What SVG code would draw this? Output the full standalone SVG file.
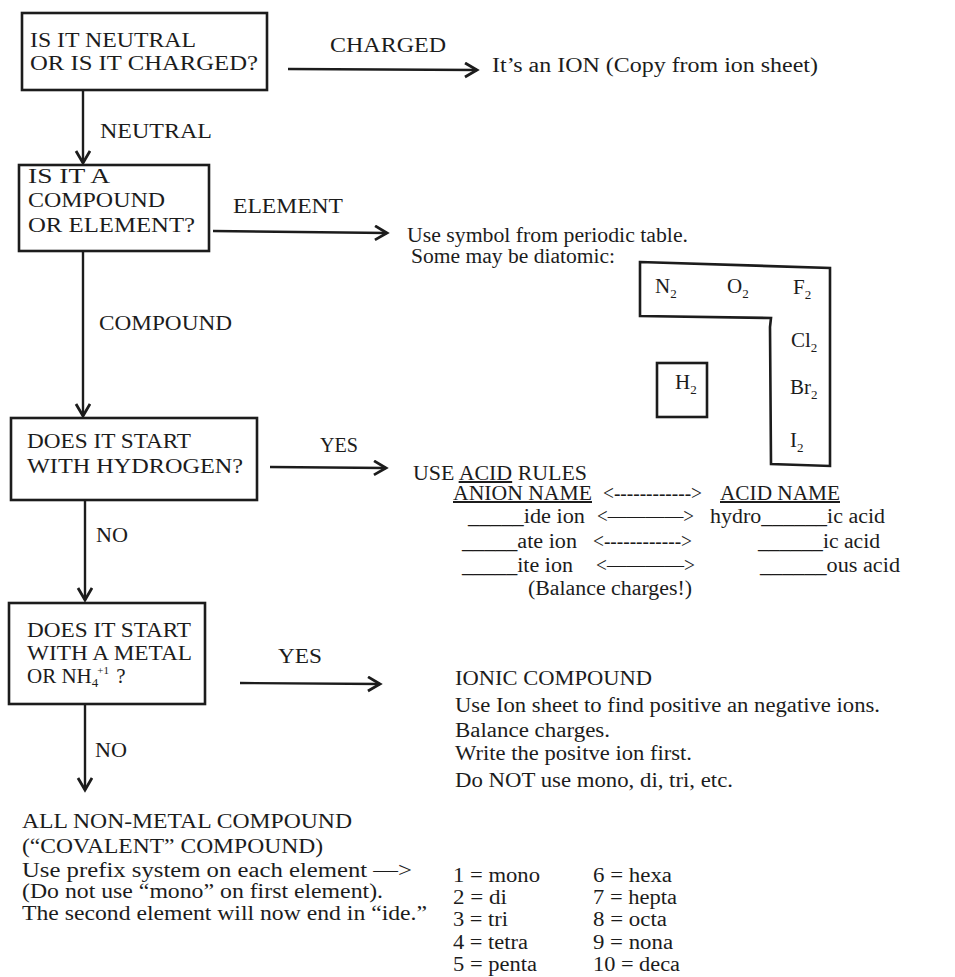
<svg xmlns="http://www.w3.org/2000/svg" width="955" height="977" viewBox="0 0 955 977">
<style>
text{font-family:"Liberation Serif","Times New Roman",serif;fill:#1c1c1c;font-size:20px}
.box{fill:none;stroke:#1c1c1c;stroke-width:2.6}
.conn{fill:none;stroke:#1c1c1c;stroke-width:2.4}
.sm{font-size:21px}
.sub{font-size:13px}
.sup{font-size:11px}
.nh{font-size:21px}
.u{text-decoration:underline}
</style>
<defs>
<marker id="ah" markerUnits="userSpaceOnUse" markerWidth="18" markerHeight="18" refX="14" refY="8" orient="auto">
<path d="M2,1 L14,8 L2,15" fill="none" stroke="#1c1c1c" stroke-width="2.8" stroke-linejoin="miter"/>
</marker>
</defs>
<rect width="955" height="977" fill="#fff"/>

<g id="connectors">
<line class="conn" x1="288" y1="69" x2="477" y2="70" marker-end="url(#ah)"/>
<line class="conn" x1="83" y1="90" x2="83" y2="163" marker-end="url(#ah)"/>
<line class="conn" x1="213" y1="231" x2="387" y2="233" marker-end="url(#ah)"/>
<line class="conn" x1="83" y1="251" x2="83" y2="416" marker-end="url(#ah)"/>
<line class="conn" x1="270" y1="467" x2="386" y2="468" marker-end="url(#ah)"/>
<line class="conn" x1="85" y1="500" x2="85" y2="600" marker-end="url(#ah)"/>
<line class="conn" x1="240" y1="683" x2="380" y2="684" marker-end="url(#ah)"/>
<line class="conn" x1="85" y1="704" x2="85" y2="790" marker-end="url(#ah)"/>
<text x="330" y="52" textLength="116" lengthAdjust="spacingAndGlyphs">CHARGED</text>
<text x="100" y="138" textLength="112" lengthAdjust="spacingAndGlyphs">NEUTRAL</text>
<text x="233" y="213" textLength="110" lengthAdjust="spacingAndGlyphs">ELEMENT</text>
<text x="99" y="330" textLength="133" lengthAdjust="spacingAndGlyphs">COMPOUND</text>
<text x="320" y="452" textLength="38" lengthAdjust="spacingAndGlyphs">YES</text>
<text x="96" y="542" textLength="32" lengthAdjust="spacingAndGlyphs">NO</text>
<text x="278" y="663" textLength="44" lengthAdjust="spacingAndGlyphs">YES</text>
<text x="95" y="757" textLength="32" lengthAdjust="spacingAndGlyphs">NO</text>
</g>

<g id="q1">
<rect class="box" x="22" y="13" width="245" height="77"/>
<text x="30" y="47" textLength="166" lengthAdjust="spacingAndGlyphs">IS IT NEUTRAL</text>
<text x="30" y="70" textLength="228" lengthAdjust="spacingAndGlyphs">OR IS IT CHARGED?</text>
</g>

<g id="ion">
<text x="492" y="72" textLength="326" lengthAdjust="spacingAndGlyphs">It’s an ION (Copy from ion sheet)</text>
</g>

<g id="q2">
<rect class="box" x="19" y="165" width="190" height="86"/>
<text x="28" y="183" textLength="82" lengthAdjust="spacingAndGlyphs">IS IT A</text>
<text x="28" y="207" textLength="137" lengthAdjust="spacingAndGlyphs">COMPOUND</text>
<text x="28" y="232" textLength="167" lengthAdjust="spacingAndGlyphs">OR  ELEMENT?</text>
</g>

<g id="element">
<text x="407" y="242" textLength="281" lengthAdjust="spacingAndGlyphs">Use symbol from periodic table.</text>
<text x="411" y="263" textLength="204" lengthAdjust="spacingAndGlyphs">Some may be diatomic:</text>
<path class="box" d="M640,262 L830,268 L830,466 L771,464 L770,327 L771,318 L640,316 Z"/>
<text x="655" y="293" class="sm">N<tspan class="sub" dy="5">2</tspan></text>
<text x="727" y="293" class="sm">O<tspan class="sub" dy="5">2</tspan></text>
<text x="793" y="294" class="sm">F<tspan class="sub" dy="5">2</tspan></text>
<text x="791" y="347" class="sm">Cl<tspan class="sub" dy="5">2</tspan></text>
<text x="790" y="394" class="sm">Br<tspan class="sub" dy="5">2</tspan></text>
<text x="790" y="447" class="sm">I<tspan class="sub" dy="5">2</tspan></text>
<rect class="box" x="657" y="363" width="50" height="54"/>
<text x="675" y="389" class="sm">H<tspan class="sub" dy="5">2</tspan></text>
</g>

<g id="q3">
<rect class="box" x="11" y="418" width="246" height="82"/>
<text x="27" y="448" textLength="164" lengthAdjust="spacingAndGlyphs">DOES IT START</text>
<text x="27" y="473" textLength="216" lengthAdjust="spacingAndGlyphs">WITH HYDROGEN?</text>
</g>

<g id="acid">
<text x="413" y="480" textLength="174" lengthAdjust="spacingAndGlyphs">USE <tspan class="u">ACID</tspan> RULES</text>
<text x="453" y="500" textLength="139" lengthAdjust="spacingAndGlyphs" class="u">ANION NAME</text>
<text x="603" y="500" textLength="99" lengthAdjust="spacingAndGlyphs">&lt;------------&gt;</text>
<text x="720" y="500" textLength="120" lengthAdjust="spacingAndGlyphs" class="u">ACID NAME</text>
<text x="468" y="523" textLength="117" lengthAdjust="spacingAndGlyphs">_____ide ion</text>
<text x="597" y="523" textLength="97" lengthAdjust="spacingAndGlyphs">&lt;————&gt;</text>
<text x="710" y="523" textLength="175" lengthAdjust="spacingAndGlyphs">hydro______ic acid</text>
<text x="462" y="548" textLength="115" lengthAdjust="spacingAndGlyphs">_____ate ion</text>
<text x="593" y="548" textLength="99" lengthAdjust="spacingAndGlyphs">&lt;------------&gt;</text>
<text x="758" y="548" textLength="122" lengthAdjust="spacingAndGlyphs">______ic acid</text>
<text x="462" y="572" textLength="111" lengthAdjust="spacingAndGlyphs">_____ite ion</text>
<text x="596" y="572" textLength="99" lengthAdjust="spacingAndGlyphs">&lt;————&gt;</text>
<text x="760" y="572" textLength="140" lengthAdjust="spacingAndGlyphs">______ous acid</text>
<text x="528" y="595" textLength="164" lengthAdjust="spacingAndGlyphs">(Balance charges!)</text>
</g>

<g id="q4">
<rect class="box" x="9" y="603" width="196" height="101"/>
<text x="27" y="637" textLength="164" lengthAdjust="spacingAndGlyphs">DOES IT START</text>
<text x="27" y="660" textLength="165" lengthAdjust="spacingAndGlyphs">WITH A METAL</text>
<text x="27" y="683" class="nh">OR NH<tspan class="sub" dy="4">4</tspan><tspan class="sup" dx="-1" dy="-13">+1</tspan><tspan class="nh" dx="2" dy="9"> ?</tspan></text>
</g>

<g id="ionic">
<text x="455" y="685" textLength="197" lengthAdjust="spacingAndGlyphs">IONIC COMPOUND</text>
<text x="455" y="712" textLength="425" lengthAdjust="spacingAndGlyphs">Use Ion sheet to find positive an negative ions.</text>
<text x="455" y="737" textLength="155" lengthAdjust="spacingAndGlyphs">Balance charges.</text>
<text x="455" y="760" textLength="237" lengthAdjust="spacingAndGlyphs">Write the positve ion first.</text>
<text x="455" y="787" textLength="278" lengthAdjust="spacingAndGlyphs">Do NOT use mono, di, tri, etc.</text>
</g>

<g id="covalent">
<text x="22" y="828" textLength="330" lengthAdjust="spacingAndGlyphs">ALL NON-METAL COMPOUND</text>
<text x="22" y="853" textLength="301" lengthAdjust="spacingAndGlyphs">(“COVALENT” COMPOUND)</text>
<text x="22" y="877" textLength="390" lengthAdjust="spacingAndGlyphs">Use prefix system on each element  —&gt;</text>
<text x="22" y="898" textLength="361" lengthAdjust="spacingAndGlyphs">(Do not use “mono” on first element).</text>
<text x="22" y="920" textLength="405" lengthAdjust="spacingAndGlyphs">The second element will now end in “ide.”</text>
</g>

<g id="prefixes">
<text x="453" y="882" textLength="87" lengthAdjust="spacingAndGlyphs">1 = mono</text>
<text x="453" y="904" textLength="54" lengthAdjust="spacingAndGlyphs">2 = di</text>
<text x="453" y="926" textLength="55" lengthAdjust="spacingAndGlyphs">3 = tri</text>
<text x="453" y="949" textLength="75" lengthAdjust="spacingAndGlyphs">4 = tetra</text>
<text x="453" y="971" textLength="84" lengthAdjust="spacingAndGlyphs">5 = penta</text>
<text x="593" y="882" textLength="79" lengthAdjust="spacingAndGlyphs">6 = hexa</text>
<text x="593" y="904" textLength="84" lengthAdjust="spacingAndGlyphs">7 = hepta</text>
<text x="593" y="926" textLength="74" lengthAdjust="spacingAndGlyphs">8 = octa</text>
<text x="593" y="949" textLength="80" lengthAdjust="spacingAndGlyphs">9 = nona</text>
<text x="593" y="971" textLength="87" lengthAdjust="spacingAndGlyphs">10 = deca</text>
</g>
</svg>
